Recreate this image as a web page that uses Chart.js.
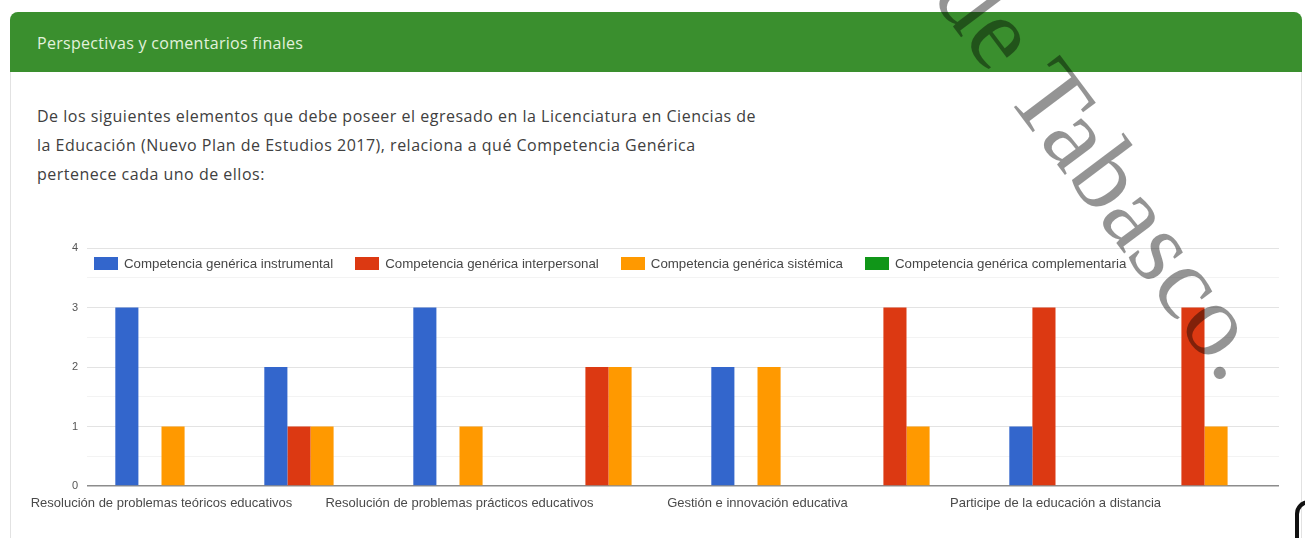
<!DOCTYPE html>
<html>
<head>
<meta charset="utf-8">
<script src="https://cdn.jsdelivr.net/npm/chart.js@4.4.1/dist/chart.umd.min.js"></script>
<style>
  html, body { margin:0; padding:0; background:#fff; width:1305px; height:538px; overflow:hidden; font-family:"Open Sans", Arial, sans-serif; }
  #card { position:absolute; left:10px; top:12px; width:1292px; height:620px; border:1px solid #e2e2e2; border-radius:8px; box-sizing:border-box; }
  #header { position:absolute; left:10px; top:12px; width:1292px; height:60px; background:#3a8f2e; border-radius:8px 8px 0 0; }
  #htitle { position:absolute; left:37px; top:33px; font-size:16px; letter-spacing:0.3px; line-height:20px; color:#e2f2dc; white-space:nowrap; }
  #question { position:absolute; left:37px; top:102px; font-size:16px; letter-spacing:0.5px; line-height:29px; color:#404040; white-space:nowrap; }
  #chartbox { position:absolute; left:0; top:230px; width:1305px; height:290px; }
  #legend { position:absolute; left:94px; top:256px; display:flex; gap:22px; font-family:Arial, "Liberation Sans", sans-serif; font-size:13.3px; color:#474747; white-space:nowrap; }
  #legend .item { display:flex; align-items:center; }
  #legend .box { width:24px; height:13px; margin-right:6px; }
  #wm { position:absolute; left:0; top:0; width:1305px; height:538px; pointer-events:none; }
  #corner { position:absolute; left:1295px; top:500px; width:30px; height:60px; border-left:4px solid #111; border-top:4px solid #111; border-top-left-radius:14px; box-sizing:border-box; }
</style>
</head>
<body>
<div id="card"></div>
<div id="header"></div>
<div id="htitle">Perspectivas y comentarios finales</div>
<div id="question">De los siguientes elementos que debe poseer el egresado en la Licenciatura en Ciencias de<br>la Educación (Nuevo Plan de Estudios 2017), relaciona a qué Competencia Genérica<br>pertenece cada uno de ellos:</div>
<div id="chartbox"><canvas id="c" width="1305" height="290"></canvas></div>
<div id="legend"></div>
<svg id="wm" width="1305" height="538" xmlns="http://www.w3.org/2000/svg">
  <text x="1224" y="386" text-anchor="end" transform="rotate(53 1224 386)" font-family="Liberation Serif, serif" font-size="104" fill="rgba(0,0,0,0.42)">de Tabasco.</text>
</svg>
<div id="corner"></div>
<script>
// Categories (labels that are not printed in the reference are left blank)
const categories = [
  "Resolución de problemas teóricos educativos", "",
  "Resolución de problemas prácticos educativos", "",
  "Gestión e innovación educativa", "",
  "Participe de la educación a distancia", ""
];
const seriesNames = [
  "Competencia genérica instrumental",
  "Competencia genérica interpersonal",
  "Competencia genérica sistémica",
  "Competencia genérica complementaria"
];
const instrumental   = [3, 2, 3, 0, 2, 0, 1, 0];
const interpersonal  = [0, 1, 0, 2, 0, 3, 3, 3];
const sistemica      = [1, 1, 1, 2, 2, 1, 0, 1];
const complementaria = [0, 0, 0, 0, 0, 0, 0, 0];
const yTicks = [0, 1, 2, 3, 4];
const colors = ["#3366cc", "#dc3912", "#ff9900", "#109618"];

const seriesValues = [instrumental, interpersonal, sistemica, complementaria];
const datasets = seriesNames.map((n, i) => ({
  label: n,
  data: seriesValues[i],
  backgroundColor: colors[i],
  borderWidth: 0,
  categoryPercentage: 0.62,
  barPercentage: 1.0
}));

const chart = new Chart(document.getElementById('c'), {
  type: 'bar',
  data: { labels: categories, datasets },
  options: {
    responsive: false,
    animation: false,
    layout: { padding: { top: 18, right: 26, bottom: 0, left: 0 } },
    plugins: { legend: { display: false }, tooltip: { enabled: false } },
    scales: {
      x: {
        grid: { display: false, drawTicks: false },
        border: { display: false },
        ticks: { autoSkip: false, maxRotation: 0, minRotation: 0, padding: 10,
                 color: '#4a4a4a', font: { family: 'Arial, "Liberation Sans", sans-serif', size: 13 } },
        afterFit: s => { s.height = 34; }
      },
      y: {
        min: yTicks[0], max: yTicks[yTicks.length - 1],
        border: { display: false },
        grid: {
          drawTicks: false,
          color: ctx => ctx.tick.value === 0 ? '#8c8c8c' : (Number.isInteger(ctx.tick.value) ? '#e3e3e3' : '#f3f3f3'),
          lineWidth: ctx => ctx.tick.value === 0 ? 1.6 : 1
        },
        ticks: {
          stepSize: 0.5, padding: 9, color: '#555',
          font: { family: 'Arial, "Liberation Sans", sans-serif', size: 11 },
          callback: v => yTicks.includes(v) ? String(v) : ''
        },
        afterFit: s => { s.width = 87; }
      }
    }
  }
});

// HTML legend built from the datasets
const lg = document.getElementById('legend');
chart.data.datasets.forEach(ds => {
  const it = document.createElement('div'); it.className = 'item';
  const b = document.createElement('div'); b.className = 'box'; b.style.background = ds.backgroundColor;
  const t = document.createElement('span'); t.textContent = ds.label;
  it.appendChild(b); it.appendChild(t); lg.appendChild(it);
});
</script>
</body>
</html>
